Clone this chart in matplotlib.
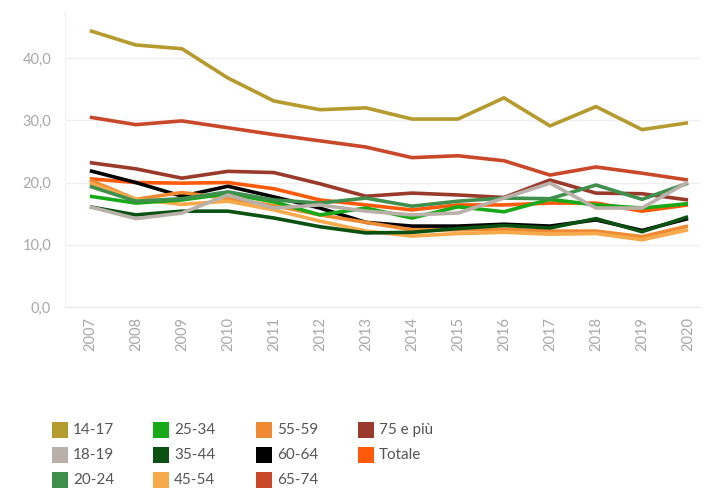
import matplotlib
matplotlib.use("Agg")
import matplotlib.pyplot as plt
from matplotlib.patches import Rectangle

plt.rcParams['font.family'] = ['Lato', 'DejaVu Sans']

years = list(range(2007, 2021))

groups = ["14-17", "18-19", "20-24", "25-34", "35-44", "45-54",
          "55-59", "60-64", "65-74", "75 e più", "Totale"]

colors = ["#b59a2e", "#b9b0a9", "#3f8f4d", "#17a917", "#0b5212", "#f6aa4c",
          "#ef8a33", "#000000", "#c9482a", "#993a2a", "#ff5a0a"]

v_14_17 = [44.4, 42.1, 41.5, 36.8, 33.1, 31.7, 32.0, 30.2, 30.2, 33.6, 29.1, 32.2, 28.5, 29.6]
v_18_19 = [16.1, 14.2, 15.1, 18.0, 15.9, 16.4, 15.4, 14.8, 15.1, 17.5, 19.9, 15.9, 15.9, 20.1]
v_20_24 = [19.4, 17.0, 17.4, 18.5, 17.2, 16.7, 17.5, 16.2, 17.0, 17.5, 17.4, 19.6, 17.3, 19.9]
v_25_34 = [17.8, 16.7, 17.2, 18.2, 16.9, 14.8, 15.9, 14.3, 16.1, 15.3, 17.3, 16.4, 15.9, 16.6]
v_35_44 = [16.1, 14.8, 15.4, 15.4, 14.3, 12.9, 11.9, 12.0, 12.6, 13.1, 12.7, 14.2, 12.1, 14.5]
v_45_54 = [19.9, 17.3, 16.5, 17.0, 15.6, 13.8, 12.2, 11.4, 11.8, 12.0, 11.7, 11.8, 10.8, 12.4]
v_55_59 = [20.4, 17.3, 18.4, 17.4, 16.3, 14.8, 13.6, 12.4, 12.4, 12.5, 12.2, 12.2, 11.3, 13.0]
v_60_64 = [21.9, 20.0, 17.8, 19.4, 17.7, 15.9, 13.6, 13.0, 13.0, 13.3, 13.0, 14.0, 12.3, 14.2]
v_65_74 = [30.5, 29.3, 29.9, 28.8, 27.7, 26.7, 25.7, 24.0, 24.3, 23.5, 21.2, 22.5, 21.5, 20.4]
v_75_piu = [23.2, 22.2, 20.7, 21.8, 21.6, 19.8, 17.8, 18.3, 18.0, 17.6, 20.4, 18.3, 18.2, 17.2]
v_totale = [20.6, 20.0, 19.9, 20.0, 19.0, 17.2, 16.4, 15.6, 16.4, 16.4, 16.7, 16.7, 15.4, 16.4]

series = [v_14_17, v_18_19, v_20_24, v_25_34, v_35_44, v_45_54,
          v_55_59, v_60_64, v_65_74, v_75_piu, v_totale]

y_ticks = [0, 10, 20, 30, 40]
y_tick_labels = ["0,0", "10,0", "20,0", "30,0", "40,0"]

fig = plt.figure(figsize=(7.05, 4.88), dpi=100)
ax = fig.add_axes([65 / 705, 1 - 307 / 488, 635 / 705, 295 / 488])

# draw order: totals and older groups first, young groups on top
order = [10, 9, 8, 7, 6, 5, 4, 3, 2, 1, 0]
for i in order:
    ax.plot(years, series[i], color=colors[i], lw=2.6, solid_joinstyle="miter",
            solid_capstyle="butt", zorder=3)

ax.set_xlim(2006.46, 2020.26)
ax.set_ylim(0, 47.4)
ax.set_yticks(y_ticks)
ax.set_yticklabels(y_tick_labels)
ax.set_xticks(years)
ax.set_xticklabels([str(y) for y in years], rotation=90)

ax.grid(axis="y", color="#efefef", lw=1.0, zorder=0)
for s in ["top", "right"]:
    ax.spines[s].set_visible(False)
ax.spines["left"].set_color("#f0f0f0")
ax.spines["bottom"].set_color("#e8e8e8")
ax.tick_params(axis="both", length=0, colors="#a8a8a8", labelsize=10.5)
ax.tick_params(axis="y", pad=10)
ax.tick_params(axis="x", pad=7)

# legend laid out column by column, three rows
col_x = [52, 153, 256, 358]
row_y = [430, 455, 480]
for k, (name, col) in enumerate(zip(groups, colors)):
    c, r = divmod(k, 3)
    x0 = col_x[c]
    y0 = row_y[r]
    fig.patches.append(Rectangle((x0 / 705, 1 - (y0 + 8) / 488), 16 / 705, 16 / 488,
                                 transform=fig.transFigure, facecolor=col,
                                 edgecolor="none"))
    fig.text((x0 + 21) / 705, 1 - y0 / 488, name, fontsize=11, color="#555555",
             va="center", ha="left")

fig.savefig("out.png", dpi=100, facecolor="white")
